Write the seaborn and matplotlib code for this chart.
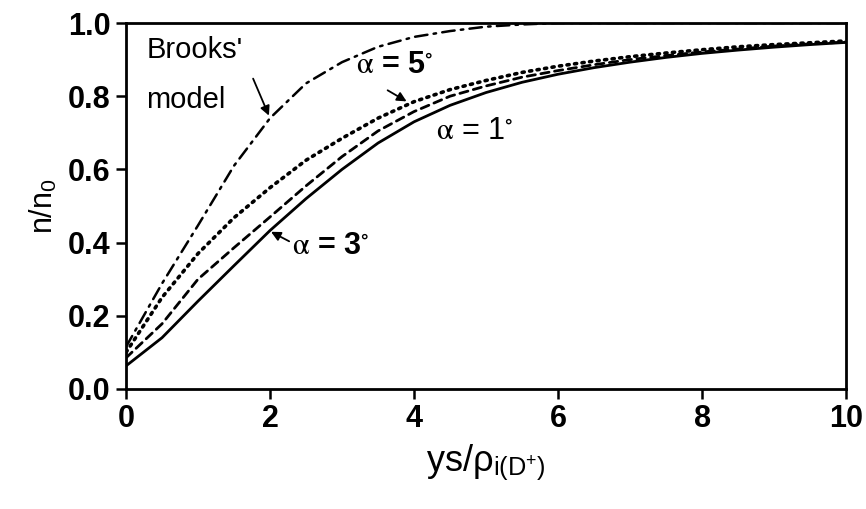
import matplotlib
matplotlib.use("Agg")
import matplotlib.pyplot as plt
import seaborn as sns
import numpy as np
import pandas as pd

x_vals = [0, 0.5, 1, 1.5, 2, 2.5, 3, 3.5, 4, 4.5, 5, 5.5, 6, 6.5, 7, 7.5, 8, 8.5, 9, 9.5, 10]
alpha3 = [0.063, 0.14, 0.24, 0.337, 0.433, 0.52, 0.60, 0.672, 0.73, 0.775, 0.81, 0.838, 0.86,
          0.878, 0.893, 0.906, 0.917, 0.926, 0.934, 0.941, 0.947]
alpha1 = [0.085, 0.178, 0.30, 0.386, 0.47, 0.555, 0.635, 0.705, 0.758, 0.80, 0.828, 0.852, 0.87,
          0.886, 0.90, 0.911, 0.921, 0.929, 0.937, 0.943, 0.948]
alpha5 = [0.10, 0.25, 0.37, 0.468, 0.55, 0.625, 0.685, 0.74, 0.785, 0.818, 0.843, 0.865, 0.882,
          0.896, 0.908, 0.918, 0.927, 0.935, 0.941, 0.946, 0.951]
brooks = [0.115, 0.288, 0.447, 0.61, 0.74, 0.835, 0.893, 0.935, 0.962, 0.978, 0.99, 0.996, 1.0,
          1.0, 1.0, 1.0, 1.0, 1.0, 1.0, 1.0, 1.0]
x_ticks = [0, 2, 4, 6, 8, 10]
y_ticks = [0.0, 0.2, 0.4, 0.6, 0.8, 1.0]

sns.set_theme(style="ticks")
plt.rcParams['font.family'] = ['Liberation Sans', 'DejaVu Sans']
plt.rcParams['mathtext.fontset'] = 'stix'
for k in ['text.color', 'axes.labelcolor', 'xtick.color', 'ytick.color', 'axes.edgecolor']:
    plt.rcParams[k] = 'black'

fig = plt.figure(figsize=(8.66, 5.09), dpi=100)
ax = fig.add_axes([0.1455, 0.2358, 0.8315, 0.719])

series = [
    (alpha3, '-', 2.0),
    (alpha1, (0, (3.0, 2.0)), 2.0),
    (alpha5, (0, (0.6, 1.5)), 2.6),
    (brooks, (0, (5, 2.5, 1, 2.5)), 1.8),
]
for ys, ls, lw in series:
    sns.lineplot(x=x_vals, y=ys, ax=ax, color='black', linestyle=ls, linewidth=lw,
                 dash_capstyle='round' if ls != '-' else 'butt')

ax.set_xlim(0, 10)
ax.set_ylim(0, 1.0)
ax.set_xticks(x_ticks)
ax.set_yticks(y_ticks)
ax.set_xticklabels([str(t) for t in x_ticks])
ax.set_yticklabels([f"{t:.1f}" for t in y_ticks])
for lab in ax.get_xticklabels() + ax.get_yticklabels():
    lab.set_fontweight('bold')
    lab.set_fontsize(22)
ax.tick_params(axis='both', direction='out', length=7, width=1.8, color='black', pad=4)
for s in ax.spines.values():
    s.set_visible(True)
    s.set_linewidth(2.0)
    s.set_color('black')

ax.set_xlabel(r'ys/ρ$_{\mathregular{i(D^{+})}}$', fontsize=26, labelpad=6)
ax.set_ylabel(r'n/n$_{\mathregular{0}}$', fontsize=22, labelpad=6)

ax.text(0.28, 0.925, "Brooks'", fontsize=21, va='center', ha='left')
ax.text(0.28, 0.79, "model", fontsize=21, va='center', ha='left')
ax.annotate('', xy=(2.0, 0.74), xytext=(1.75, 0.855),
            arrowprops=dict(arrowstyle='-|>', color='black', lw=1.3, mutation_scale=14))

ax.text(3.2, 0.885, r'$\mathrm{\alpha}$ = 5$^{\circ}$', fontsize=22, fontweight='bold', va='center', ha='left')
ax.annotate('', xy=(3.93, 0.782), xytext=(3.6, 0.82),
            arrowprops=dict(arrowstyle='-|>', color='black', lw=1.3, mutation_scale=14))

ax.text(4.3, 0.705, r'$\mathrm{\alpha}$ = 1$^{\circ}$', fontsize=22, va='center', ha='left')

ax.text(2.3, 0.39, r'$\mathrm{\alpha}$ = 3$^{\circ}$', fontsize=22, fontweight='bold', va='center', ha='left')
ax.annotate('', xy=(1.98, 0.433), xytext=(2.3, 0.40),
            arrowprops=dict(arrowstyle='-|>', color='black', lw=1.3, mutation_scale=14))

fig.savefig('out.png', dpi=100)
